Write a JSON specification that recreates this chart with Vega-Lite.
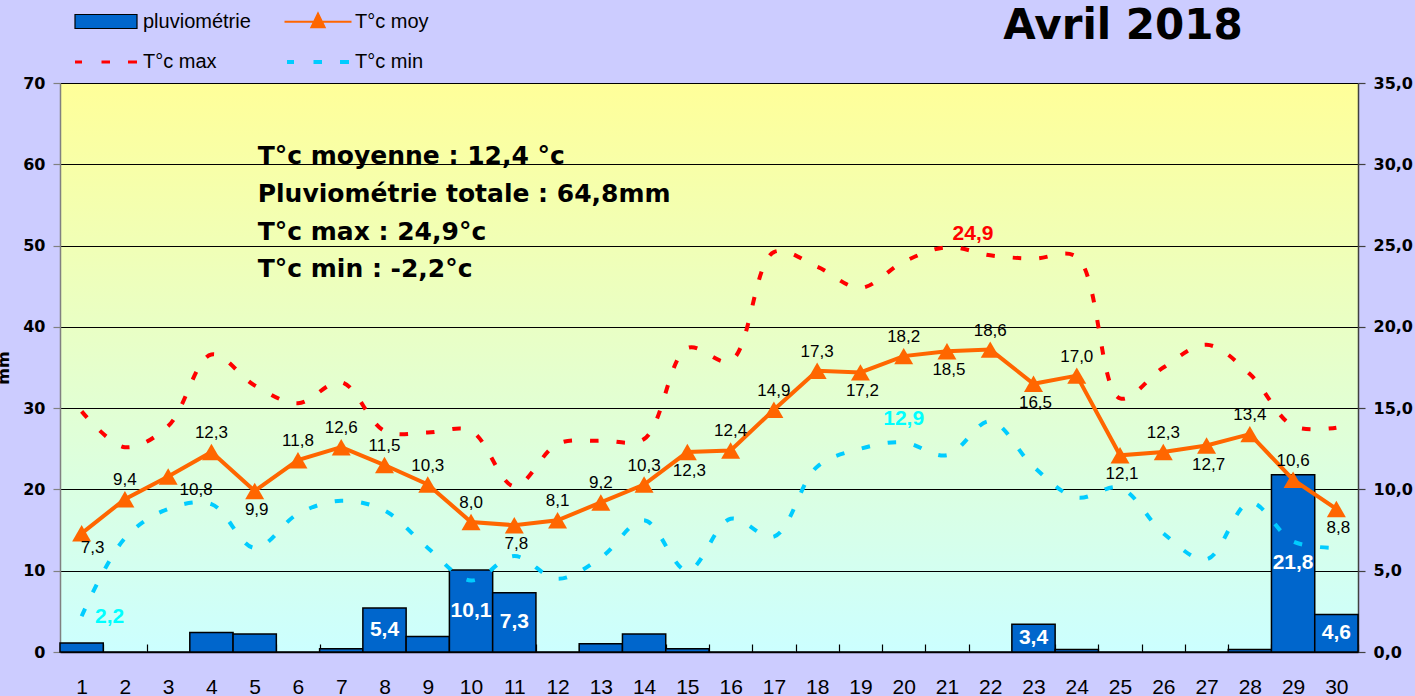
{
  "$schema": "https://vega.github.io/schema/vega-lite/v6.json",
  "width": 1298,
  "height": 569,
  "autosize": {"type": "none"},
  "padding": {"left": 60, "top": 83, "right": 57, "bottom": 44},
  "background": "#CCCCFF",
  "data": {"values": [
    {"day": 1, "rain": 1.1, "tmoy": 7.3, "tmax": 14.8, "tmin": 2.2},
    {"day": 2, "rain": 0, "tmoy": 9.4, "tmax": 12.6, "tmin": 7.0},
    {"day": 3, "rain": 0, "tmoy": 10.8, "tmax": 13.9, "tmin": 8.8},
    {"day": 4, "rain": 2.4, "tmoy": 12.3, "tmax": 18.3, "tmin": 9.1},
    {"day": 5, "rain": 2.2, "tmoy": 9.9, "tmax": 16.4, "tmin": 6.4},
    {"day": 6, "rain": 0, "tmoy": 11.8, "tmax": 15.3, "tmin": 8.5},
    {"day": 7, "rain": 0.4, "tmoy": 12.6, "tmax": 16.6, "tmin": 9.3},
    {"day": 8, "rain": 5.4, "tmoy": 11.5, "tmax": 13.6, "tmin": 8.7},
    {"day": 9, "rain": 1.9, "tmoy": 10.3, "tmax": 13.5, "tmin": 6.4},
    {"day": 10, "rain": 10.1, "tmoy": 8.0, "tmax": 13.6, "tmin": 4.4},
    {"day": 11, "rain": 7.3, "tmoy": 7.8, "tmax": 10.2, "tmin": 5.9},
    {"day": 12, "rain": 0, "tmoy": 8.1, "tmax": 12.8, "tmin": 4.5},
    {"day": 13, "rain": 1.0, "tmoy": 9.2, "tmax": 13.0, "tmin": 5.8},
    {"day": 14, "rain": 2.2, "tmoy": 10.3, "tmax": 13.1, "tmin": 8.1},
    {"day": 15, "rain": 0.4, "tmoy": 12.3, "tmax": 18.7, "tmin": 5.0},
    {"day": 16, "rain": 0, "tmoy": 12.4, "tmax": 17.9, "tmin": 8.2},
    {"day": 17, "rain": 0, "tmoy": 14.9, "tmax": 24.6, "tmin": 7.1},
    {"day": 18, "rain": 0, "tmoy": 17.3, "tmax": 23.7, "tmin": 11.4},
    {"day": 19, "rain": 0, "tmoy": 17.2, "tmax": 22.4, "tmin": 12.5},
    {"day": 20, "rain": 0, "tmoy": 18.2, "tmax": 24.0, "tmin": 12.9},
    {"day": 21, "rain": 0, "tmoy": 18.5, "tmax": 24.9, "tmin": 12.1},
    {"day": 22, "rain": 0, "tmoy": 18.6, "tmax": 24.4, "tmin": 14.2},
    {"day": 23, "rain": 3.4, "tmoy": 16.5, "tmax": 24.2, "tmin": 11.4},
    {"day": 24, "rain": 0.3, "tmoy": 17.0, "tmax": 24.3, "tmin": 9.5},
    {"day": 25, "rain": 0, "tmoy": 12.1, "tmax": 15.6, "tmin": 10.1},
    {"day": 26, "rain": 0, "tmoy": 12.3, "tmax": 17.5, "tmin": 7.3},
    {"day": 27, "rain": 0, "tmoy": 12.7, "tmax": 18.9, "tmin": 5.7},
    {"day": 28, "rain": 0.3, "tmoy": 13.4, "tmax": 17.1, "tmin": 9.2},
    {"day": 29, "rain": 21.8, "tmoy": 10.6, "tmax": 13.9, "tmin": 6.8},
    {"day": 30, "rain": 4.6, "tmoy": 8.8, "tmax": 13.8, "tmin": 6.4}
  ]},
  "layer": [
    {
      "layer": [
        {
          "mark": {"type": "bar", "fill": "#0066CC", "stroke": "#000000", "strokeWidth": 1.5},
          "encoding": {
            "x": {"field": "day", "type": "ordinal", "title": null, "scale": {"paddingInner": 0, "paddingOuter": 0}},
            "y": {"field": "rain", "type": "quantitative", "scale": {"domain": [0, 70], "nice": false},
              "axis": {"orient": "left", "values": [0, 10, 20, 30, 40, 50, 60, 70], "format": "d", "grid": true, "gridColor": "#000000", "gridWidth": 1, "gridOpacity": 1,
                "domainColor": "#808080", "domainWidth": 1.5, "tickColor": "#808080", "tickSize": 7, "tickWidth": 1.2, "labelPadding": 8,
                "labelFont": "DejaVu Sans", "labelFontWeight": "bold", "labelFontSize": 16, "labelColor": "#000000",
                "title": "mm", "titleFont": "DejaVu Sans", "titleFontSize": 16, "titleFontWeight": "bold", "titleColor": "#000000", "titlePadding": 11}}
          }
        },
        {
          "data": {"values": [{}]},
          "mark": {"type": "text", "text": ["T°c moyenne : 12,4 °c", "Pluviométrie totale : 64,8mm", "T°c max : 24,9°c", "T°c min : -2,2°c"],
            "align": "left", "baseline": "alphabetic", "lineHeight": 37.7, "font": "DejaVu Sans", "fontWeight": "bold", "fontSize": 25, "dx": 3, "fill": "#000000"},
          "encoding": {
            "x": {"datum": 5, "type": "ordinal"},
            "y": {"datum": 60, "type": "quantitative"}
          }
        },
        {
          "data": {"values": [{}]},
          "mark": {"type": "text", "text": "Avril 2018", "align": "center", "baseline": "alphabetic", "font": "DejaVu Sans", "fontWeight": "bold", "fontSize": 42, "dx": 3, "fill": "#000000"},
          "encoding": {
            "x": {"datum": 25, "type": "ordinal"},
            "y": {"datum": 75.4, "type": "quantitative"}
          }
        }
      ]
    },
    {
      "layer": [
        {
          "mark": {"type": "line", "stroke": "#FF0000", "strokeWidth": 4, "strokeDash": [8.5, 18], "strokeCap": "butt", "interpolate": "catmull-rom"},
          "encoding": {
            "x": {"field": "day", "type": "ordinal", "title": null},
            "y": {"field": "tmax", "type": "quantitative", "title": null, "scale": {"domain": [0, 35], "nice": false},
              "axis": {"orient": "right", "values": [0, 5, 10, 15, 20, 25, 30, 35], "format": ".1f", "grid": false,
                "domainColor": "#404040", "domainWidth": 1.5, "tickColor": "#404040", "tickSize": 7, "tickWidth": 1.2, "labelPadding": 8,
                "labelFont": "DejaVu Sans", "labelFontWeight": "bold", "labelFontSize": 16, "labelColor": "#000000", "title": null}}
          }
        },
        {
          "mark": {"type": "line", "stroke": "#00CCFF", "strokeWidth": 4, "strokeDash": [8.5, 18], "strokeCap": "butt", "interpolate": "catmull-rom"},
          "encoding": {
            "x": {"field": "day", "type": "ordinal", "title": null},
            "y": {"field": "tmin", "type": "quantitative", "title": null}
          }
        },
        {
          "mark": {"type": "line", "stroke": "#FF6600", "strokeWidth": 4},
          "encoding": {
            "x": {"field": "day", "type": "ordinal", "title": null},
            "y": {"field": "tmoy", "type": "quantitative", "title": null}
          }
        },
        {
          "mark": {"type": "point", "shape": "triangle-up", "filled": true, "fill": "#FF6600", "size": 360, "opacity": 1},
          "encoding": {
            "x": {"field": "day", "type": "ordinal", "title": null},
            "y": {"field": "tmoy", "type": "quantitative", "title": null}
          }
        },
        {
          "transform": [{"filter": {"field": "day", "oneOf": [2, 4, 6, 7, 8, 9, 10, 12, 13, 14, 16, 17, 18, 20, 22, 24, 26, 28, 29]}}],
          "mark": {"type": "text", "font": "Liberation Sans", "fontSize": 17, "baseline": "middle", "dy": -19, "fill": "#000000"},
          "encoding": {
            "x": {"field": "day", "type": "ordinal", "title": null},
            "y": {"field": "tmoy", "type": "quantitative", "title": null},
            "text": {"field": "tmoy", "type": "quantitative", "format": ".1f"}
          }
        },
        {
          "transform": [{"filter": {"field": "day", "oneOf": [5, 11, 15, 19, 21, 23, 25, 27, 30]}}],
          "mark": {"type": "text", "font": "Liberation Sans", "fontSize": 17, "baseline": "middle", "dy": 19, "dx": 2, "fill": "#000000"},
          "encoding": {
            "x": {"field": "day", "type": "ordinal", "title": null},
            "y": {"field": "tmoy", "type": "quantitative", "title": null},
            "text": {"field": "tmoy", "type": "quantitative", "format": ".1f"}
          }
        },
        {
          "transform": [{"filter": {"field": "day", "equal": 1}}],
          "mark": {"type": "text", "font": "Liberation Sans", "fontSize": 17, "baseline": "middle", "dy": 15, "dx": 11, "fill": "#000000"},
          "encoding": {
            "x": {"field": "day", "type": "ordinal", "title": null},
            "y": {"field": "tmoy", "type": "quantitative", "title": null},
            "text": {"field": "tmoy", "type": "quantitative", "format": ".1f"}
          }
        },
        {
          "transform": [{"filter": {"field": "day", "equal": 3}}],
          "mark": {"type": "text", "font": "Liberation Sans", "fontSize": 17, "baseline": "middle", "dy": 14, "dx": 28, "fill": "#000000"},
          "encoding": {
            "x": {"field": "day", "type": "ordinal", "title": null},
            "y": {"field": "tmoy", "type": "quantitative", "title": null},
            "text": {"field": "tmoy", "type": "quantitative", "format": ".1f"}
          }
        },
        {
          "transform": [{"filter": {"field": "day", "equal": 21}}],
          "mark": {"type": "text", "font": "Liberation Sans", "fontWeight": "bold", "fontSize": 21, "baseline": "middle", "dy": -13, "dx": 26, "fill": "#FF0000"},
          "encoding": {
            "x": {"field": "day", "type": "ordinal", "title": null},
            "y": {"field": "tmax", "type": "quantitative", "title": null},
            "text": {"field": "tmax", "type": "quantitative", "format": ".1f"}
          }
        },
        {
          "transform": [{"filter": {"field": "day", "equal": 20}}],
          "mark": {"type": "text", "font": "Liberation Sans", "fontWeight": "bold", "fontSize": 21, "baseline": "middle", "dy": -23, "dx": 0, "fill": "#00FFFF"},
          "encoding": {
            "x": {"field": "day", "type": "ordinal", "title": null},
            "y": {"field": "tmin", "type": "quantitative", "title": null},
            "text": {"field": "tmin", "type": "quantitative", "format": ".1f"}
          }
        },
        {
          "transform": [{"filter": {"field": "day", "equal": 1}}],
          "mark": {"type": "text", "font": "Liberation Sans", "fontWeight": "bold", "fontSize": 21, "baseline": "middle", "dy": 1, "dx": 28, "fill": "#00FFFF"},
          "encoding": {
            "x": {"field": "day", "type": "ordinal", "title": null},
            "y": {"field": "tmin", "type": "quantitative", "title": null},
            "text": {"field": "tmin", "type": "quantitative", "format": ".1f"}
          }
        },
        {
          "data": {"values": [{"series": "pluviométrie"}, {"series": "T°c moy"}, {"series": "T°c max"}, {"series": "T°c min"}]},
          "mark": {"type": "point", "clip": true, "size": 400},
          "encoding": {
            "x": {"datum": 1, "type": "ordinal"},
            "y": {"datum": -50, "type": "quantitative"},
            "shape": {"field": "series", "type": "nominal",
              "scale": {"domain": ["pluviométrie", "T°c moy", "T°c max", "T°c min"],
                "range": ["M-3.1,-0.7H3.1V0.7H-3.1Z", "M-3.35,0H3.35M0,-0.8L0.65,0.55L-0.65,0.55Z", "M-3.1,0H-2.4M-0.45,0H0.4M2.2,0H3.1", "M-3.1,0H-2.4M-0.45,0H0.4M2.2,0H3.1"]},
              "legend": {"title": null, "orient": "none", "legendX": 34, "legendY": -73, "columns": 2, "direction": "horizontal", "symbolSize": 400, "labelOffset": 25,
                "columnPadding": 28, "rowPadding": 18, "padding": 0, "labelFont": "Liberation Sans", "labelFontSize": 20, "labelColor": "#000000", "labelLimit": 300, "symbolOpacity": 1}},
            "fill": {"field": "series", "type": "nominal",
              "scale": {"domain": ["pluviométrie", "T°c moy", "T°c max", "T°c min"], "range": ["#0066CC", "#FF6600", "transparent", "transparent"]},
              "legend": {"title": null, "orient": "none", "legendX": 34, "legendY": -73, "columns": 2, "direction": "horizontal", "symbolSize": 400, "labelOffset": 25,
                "columnPadding": 28, "rowPadding": 18, "padding": 0, "labelFont": "Liberation Sans", "labelFontSize": 20, "labelColor": "#000000", "labelLimit": 300, "symbolOpacity": 1}},
            "stroke": {"field": "series", "type": "nominal",
              "scale": {"domain": ["pluviométrie", "T°c moy", "T°c max", "T°c min"], "range": ["#000000", "#FF6600", "#FF0000", "#00CCFF"]},
              "legend": {"title": null, "orient": "none", "legendX": 34, "legendY": -73, "columns": 2, "direction": "horizontal", "symbolSize": 400, "labelOffset": 25,
                "columnPadding": 28, "rowPadding": 18, "padding": 0, "labelFont": "Liberation Sans", "labelFontSize": 20, "labelColor": "#000000", "labelLimit": 300, "symbolOpacity": 1}},
            "strokeWidth": {"field": "series", "type": "ordinal",
              "scale": {"domain": ["pluviométrie", "T°c moy", "T°c max", "T°c min"], "range": [1.2, 4, 5, 5]},
              "legend": {"title": null, "orient": "none", "legendX": 34, "legendY": -73, "columns": 2, "direction": "horizontal", "symbolSize": 400, "labelOffset": 25,
                "columnPadding": 28, "rowPadding": 18, "padding": 0, "labelFont": "Liberation Sans", "labelFontSize": 20, "labelColor": "#000000", "labelLimit": 300, "symbolOpacity": 1}}
          }
        }
      ]
    },
    {
      "transform": [{"filter": "datum.rain >= 3"}],
      "mark": {"type": "text", "font": "Liberation Sans", "fontWeight": "bold", "fontSize": 21, "baseline": "middle", "fill": "#FFFFFF"},
      "encoding": {
        "x": {"field": "day", "type": "ordinal", "title": null},
        "y": {"field": "rain", "type": "quantitative", "scale": {"domain": [0, 140], "nice": false}, "axis": null},
        "text": {"field": "rain", "type": "quantitative", "format": ".1f"}
      }
    }
  ],
  "resolve": {"scale": {"y": "independent"}},
  "config": {
    "locale": {"number": {"decimal": ",", "thousands": " ", "grouping": [3], "currency": ["", " €"]}},
    "view": {"stroke": null, "fill": {"gradient": "linear", "x1": 0, "y1": 0, "x2": 0, "y2": 1, "stops": [{"offset": 0, "color": "#FFFF99"}, {"offset": 1, "color": "#CCFFFF"}]}},
    "axisX": {"domainColor": "#000000", "domainWidth": 1.5, "tickColor": "#000000", "tickWidth": 1.2, "tickSize": -8, "tickBand": "extent",
      "labelFont": "Liberation Sans", "labelFontSize": 21, "labelColor": "#000000", "labelAngle": 0, "labelPadding": 49, "labelBaseline": "alphabetic", "grid": false}
  }
}
